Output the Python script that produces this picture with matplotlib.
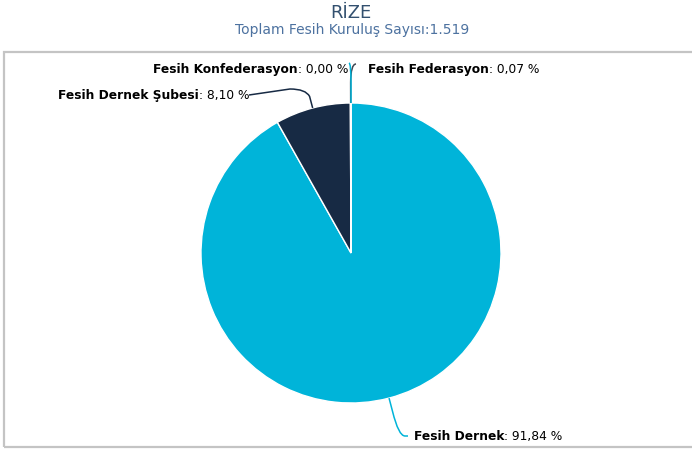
import numpy as np
import matplotlib
matplotlib.use("Agg")
import matplotlib.pyplot as plt
from matplotlib.path import Path
from matplotlib.patches import PathPatch, Rectangle

# data
categories = ["Fesih Dernek", "Fesih Dernek Şubesi", "Fesih Federasyon", "Fesih Konfederasyon"]
counts = [1395, 123, 1, 0]
percent_labels = ["91,84 %", "8,10 %", "0,07 %", "0,00 %"]
title = "RİZE"
subtitle = "Toplam Fesih Kuruluş Sayısı:1.519"

colors = ["#00b4d9", "#172a44", "#3e4652", "#00b4d9"]

W, H = 692, 452
fig = plt.figure(figsize=(W / 100, H / 100), dpi=100)
ax = fig.add_axes([0, 0, 1, 1])
ax.set_xlim(0, W)
ax.set_ylim(0, H)
ax.set_aspect("equal")
ax.axis("off")

# plot frame (right edge is cut off)
ax.add_patch(Rectangle((4, H - 448), W + 10, 448 - 53, fill=False,
                       edgecolor="#c4c4c4", linewidth=1.6))

cx, cy, r = 351, H - 254, 150
wedges, _ = ax.pie(counts, colors=colors, startangle=90, counterclock=False,
                   center=(cx, cy), radius=r, frame=True,
                   wedgeprops=dict(edgecolor="white", linewidth=1))
ax.set_xlim(0, W)
ax.set_ylim(0, H)
ax.axis("off")

fig.text(351 / W, 1 - 13 / H, title, ha="center", va="center",
         fontsize=13, color="#33506f")
fig.text(352 / W, 1 - 30 / H, subtitle, ha="center", va="center",
         fontsize=10, color="#4d72a0")

fs = 8.8


def label(x, y, name, value, side):
    # bold name + regular value, like the source chart
    if side == "left":
        t = ax.text(x, y, name, ha="left", va="center", fontsize=fs,
                    fontweight="bold", color="black")
        ax.annotate(": " + value, xy=(1, 0), xycoords=t, ha="left", va="bottom",
                    fontsize=fs, color="black")
    else:
        t = ax.text(x, y, ": " + value, ha="right", va="center", fontsize=fs,
                    color="black")
        ax.annotate(name, xy=(0, 0), xycoords=t, ha="right", va="bottom",
                    fontsize=fs, fontweight="bold", color="black")


def connector(points, color):
    codes = [Path.MOVETO, Path.LINETO, Path.CURVE3, Path.CURVE3, Path.LINETO]
    ax.add_patch(PathPatch(Path(points, codes[:len(points)]), fill=False,
                           edgecolor=color, linewidth=1.1))


def edge_point(w, extra=0):
    a = np.deg2rad((w.theta1 + w.theta2) / 2)
    return np.array([cx + (r + extra) * np.cos(a), cy + (r + extra) * np.sin(a)])


# Fesih Dernek (bottom right)
p0 = edge_point(wedges[0])
p1 = edge_point(wedges[0], 14)
end = np.array([405, H - 437])
connector([p0, p1, [p1[0] + 6, end[1]], end, end + [3, 0]], colors[0])
label(414, H - 437, categories[0], percent_labels[0], "left")

# Fesih Dernek Şubesi (upper left)
p0 = edge_point(wedges[1])
p1 = edge_point(wedges[1], 12)
end = np.array([290, H - 90])
connector([p0, p1, [p1[0] - 4, end[1]], end, [249, H - 96]], colors[1])
label(58, H - 96, categories[1], percent_labels[1], "left")

# Fesih Federasyon (top, right side)
p0 = edge_point(wedges[2])
p1 = edge_point(wedges[2], 20)
end = np.array([356, H - 65])
connector([p0, p1, [p1[0], end[1]], end, end], "#3e4652")
label(368, H - 69, categories[2], percent_labels[2], "left")

# Fesih Konfederasyon (top, left side)
p0 = edge_point(wedges[3])
p1 = edge_point(wedges[3], 20)
end = np.array([349, H - 64])
connector([p0, p1, [p1[0], end[1]], end, end], colors[3])
label(348, H - 69, categories[3], percent_labels[3], "right")

fig.savefig("out.png", dpi=100)
